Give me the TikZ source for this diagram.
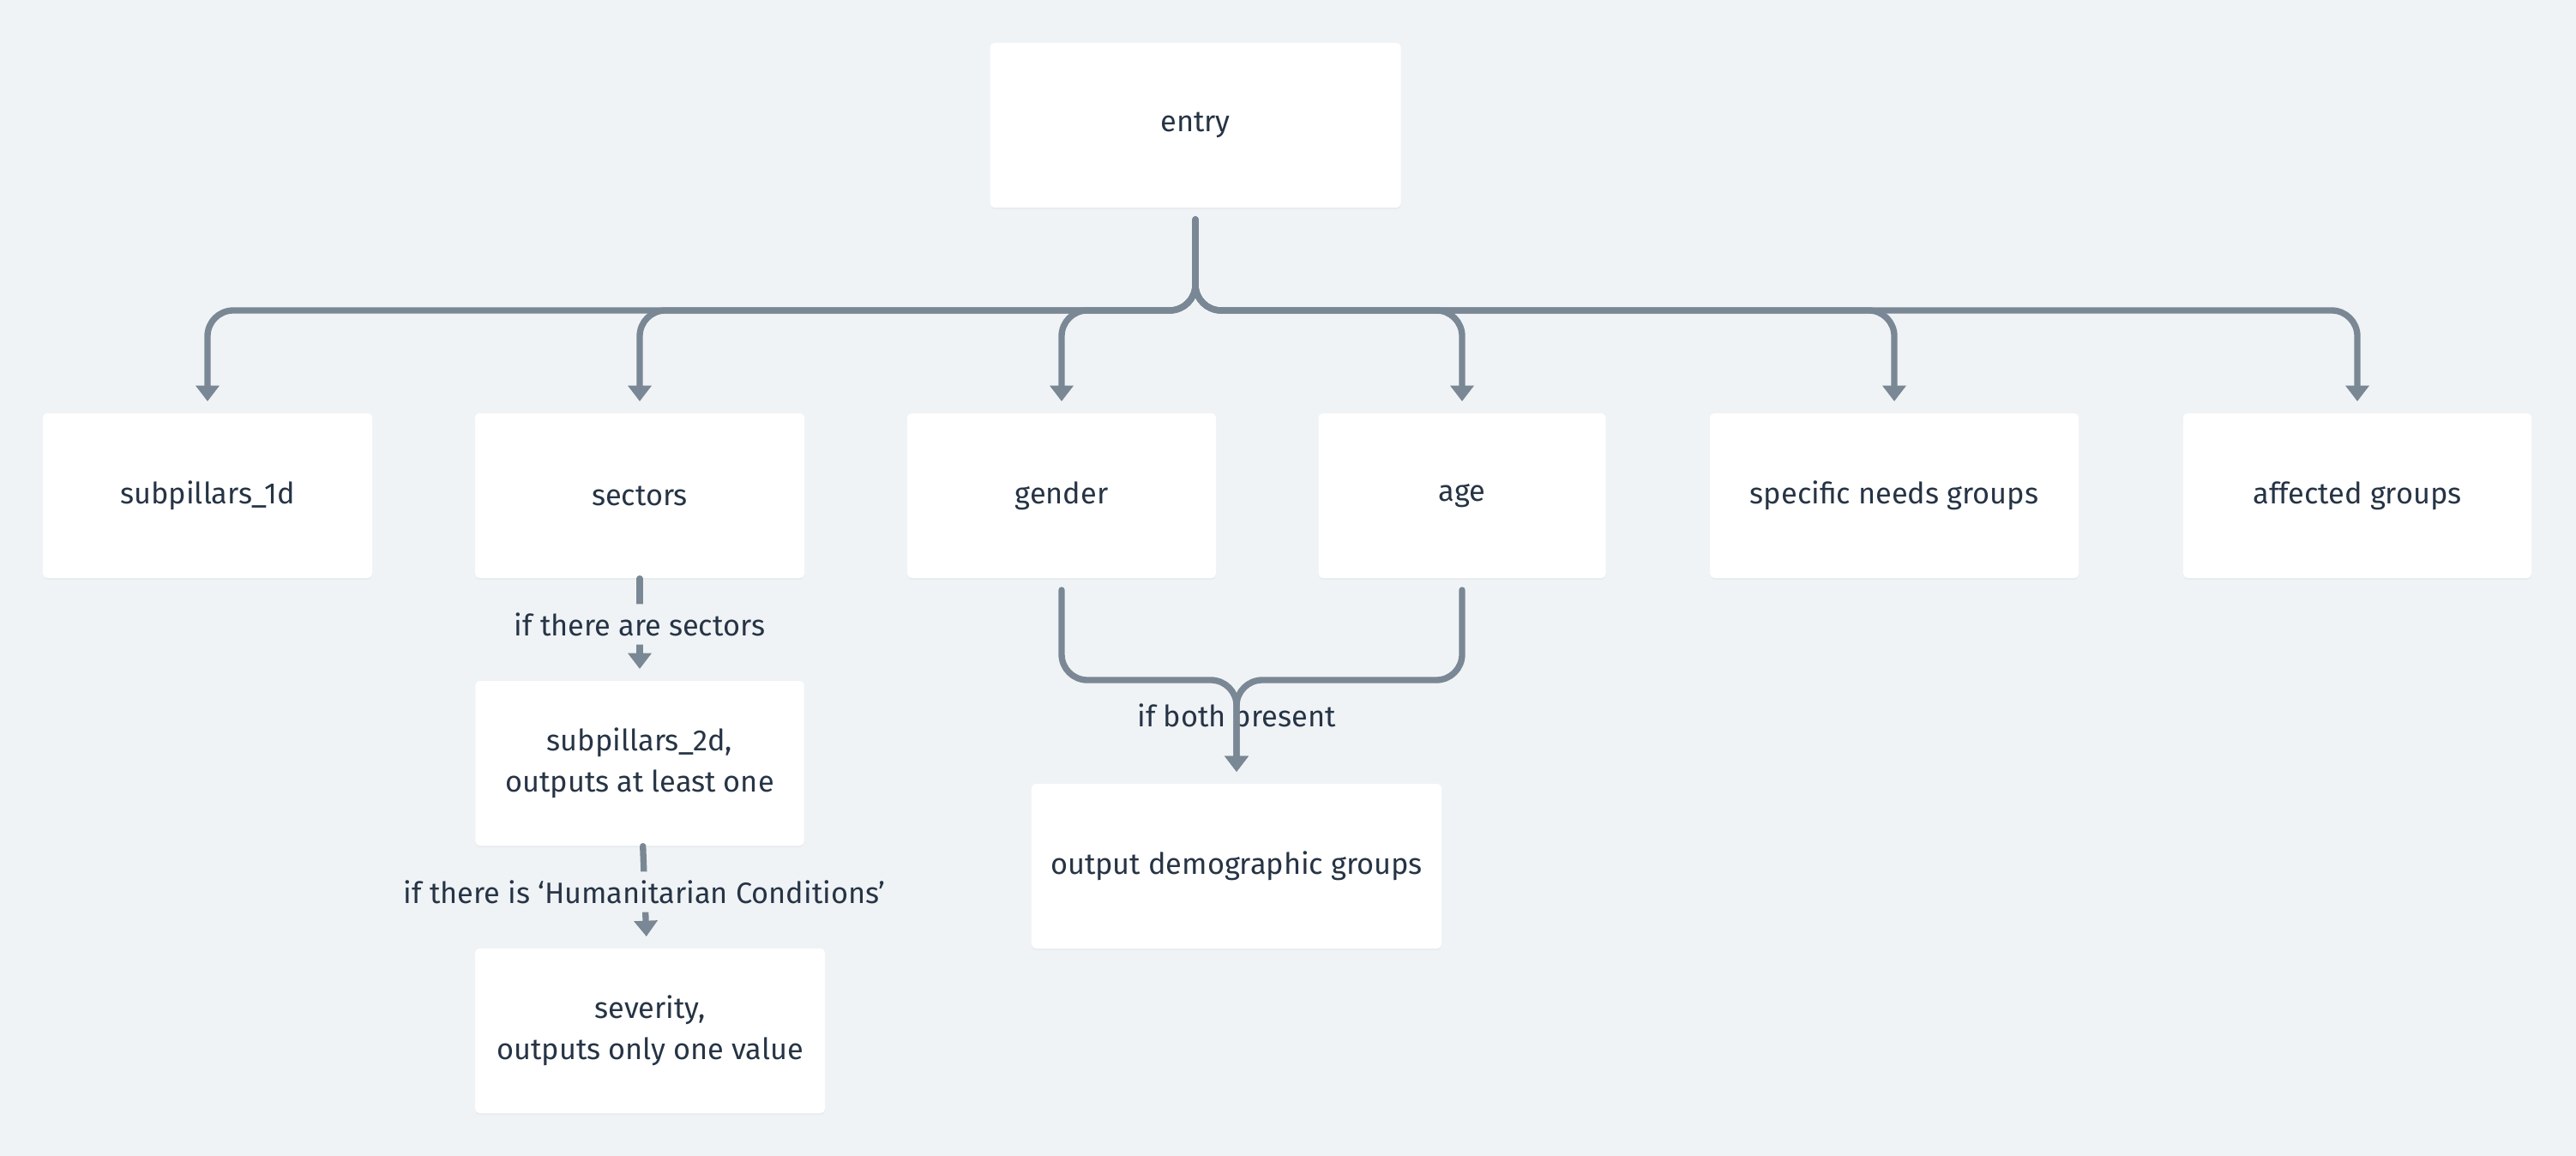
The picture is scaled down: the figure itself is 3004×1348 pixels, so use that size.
\documentclass[tikz,border=0pt]{standalone}
\usepackage{fontspec}
\setmainfont{Fira Sans}
\usetikzlibrary{positioning,arrows.meta,shadows}
\definecolor{bgcolor}{RGB}{240,243,246}
\definecolor{linecolor}{RGB}{122,135,148}
\definecolor{textcolor}{RGB}{38,52,69}

\begin{document}
\begin{tikzpicture}[%
    x=0.3pt, y=-0.3pt,                  % sketch pixels, y going down
    >={Triangle[length=5.5pt,width=8pt]}, % Filled heads as in the sketch
    every node/.style={font=\fontsize{10.3}{14.4}\selectfont, text=textcolor},
    ]
\tikzset{
  box/.style={fill=white, rounded corners=1.5pt, align=center, minimum height=57.6pt,
    drop shadow={shadow xshift=0pt, shadow yshift=-0.6pt, opacity=0.06}},
  link/.style={->, draw=linecolor, line width=2.2pt, line cap=round, rounded corners=9pt,
    shorten <=4pt, shorten >=4pt},
  cond/.style={fill=bgcolor, inner sep=3pt, pos=0.45},
}

\fill [bgcolor] (0,0) rectangle (3004,1348);
\useasboundingbox (0,0) rectangle (3004,1348);

\node [box, minimum width=143.7pt] (entry) at (1394,146) {entry};
\node [box, minimum width=115.2pt] (sub1d) at (242,578) {subpillars\_1d};
\node [box, minimum width=115.2pt] (sectors) at (746,578) {sectors};
\node [box, minimum width=108pt] (gender) at (1238,578) {gender};
\node [box, minimum width=100.5pt] (age) at (1705,578) {age};
\node [box, minimum width=129pt] (needs) at (2209,578) {specific needs groups};
\node [box, minimum width=121.8pt] (affected) at (2749,578) {affected groups};
\node [box, minimum width=115pt] (sub2d) at (746,890) {subpillars\_2d,\\outputs at least one};
\node [box, minimum width=122.4pt] (severity) at (758,1202) {severity,\\outputs only one value};
\node [box, minimum width=143.4pt] (demo) at (1442,1010) {output demographic groups};
\node (both) at (1442,838) {if both present};

\coordinate (hub) at (1394,362);
\coordinate (merge) at (1442,793);

\foreach \t in {sub1d,sectors,gender,age,needs,affected}
  \draw [link] (entry.south) -- (hub) -| (\t.north);

\draw [link, shorten <=0pt] (sectors) -- node [cond] {if there are sectors} (sub2d);
\draw [link, shorten <=0pt] (sub2d) -- node [cond] {if there is ‘Humanitarian Conditions’} (severity);
\draw [link] (gender.south) |- (merge) -- (demo.north);
\draw [link] (age.south) |- (merge) -- (demo.north);

\end{tikzpicture}
\end{document}
